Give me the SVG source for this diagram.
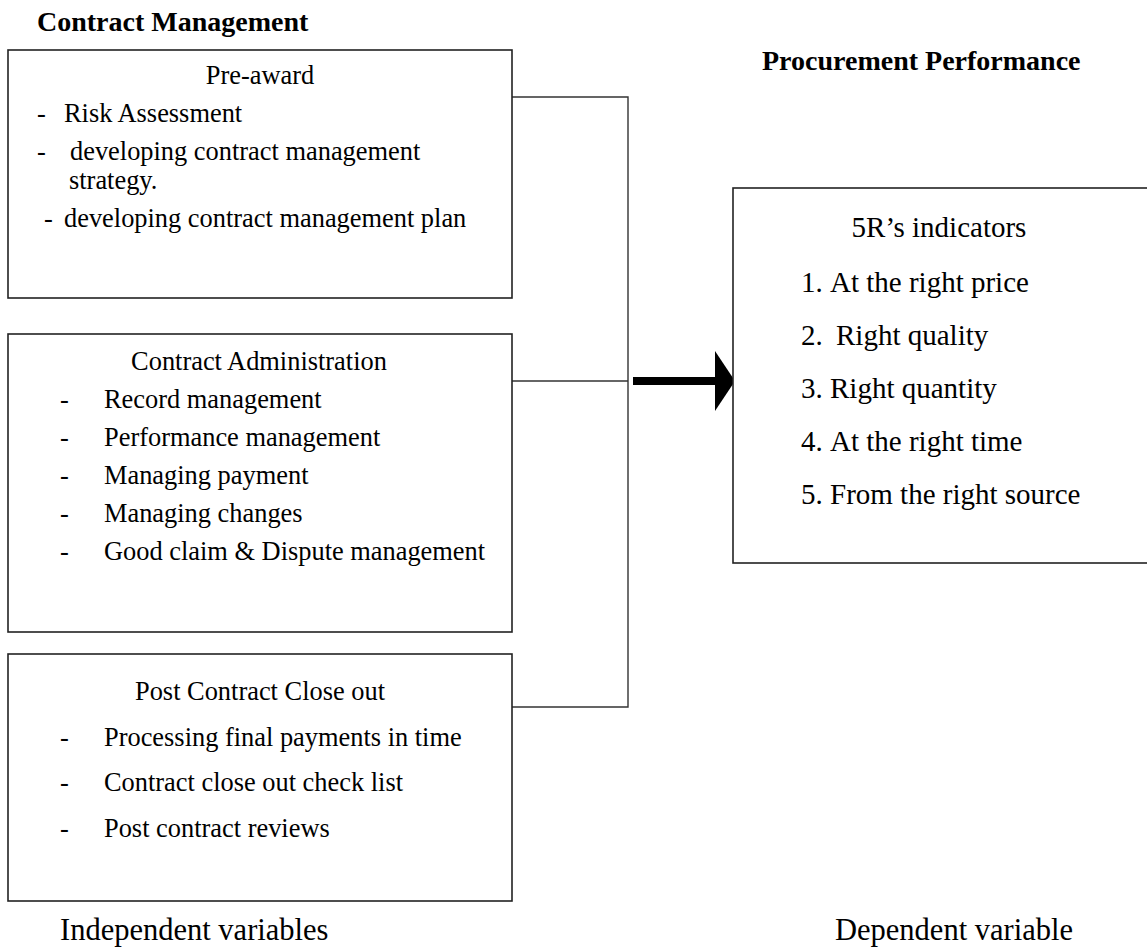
<svg xmlns="http://www.w3.org/2000/svg" width="1147" height="947" viewBox="0 0 1147 947">
<style>
text{font-family:"Liberation Serif","Times New Roman",serif;fill:#000}
.b{font-size:28px;font-weight:bold}
.t{font-size:26.4px}
.c{font-size:26.4px;text-anchor:middle}
.r{font-size:29px}
.lab{font-size:30.5px}
.box{fill:#fff;stroke:#222;stroke-width:1.6}
.con{fill:none;stroke:#333;stroke-width:1.4}
</style>
<rect width="1147" height="947" fill="#fff"/>
<text class="b" x="37" y="31">Contract Management</text>
<text class="b" x="762" y="70" font-size="28.5">Procurement Performance</text>
<g id="connectors">
<polyline class="con" points="512,97 628,97 628,707 512,707"/>
<line class="con" x1="512" y1="381" x2="628" y2="381"/>
<line x1="633" y1="381" x2="718" y2="381" stroke="#000" stroke-width="8"/>
<polygon points="715,351 735,381 715,411" fill="#000"/>
</g>
<g id="pre-award">
<rect class="box" x="8" y="50" width="504" height="248"/>
<text class="c" x="260" y="84">Pre-award</text>
<text class="t" x="37" y="122">-</text><text class="t" x="64" y="122">Risk Assessment</text>
<text class="t" x="37" y="160">-</text><text class="t" x="70" y="160">developing contract management</text>
<text class="t" x="69" y="189">strategy.</text>
<text class="t" x="44" y="227">-</text><text class="t" x="64" y="227">developing contract management plan</text>
</g>
<g id="contract-administration">
<rect class="box" x="8" y="334" width="504" height="298"/>
<text class="c" x="259" y="370">Contract Administration</text>
<text class="t" x="60" y="408">-</text><text class="t" x="104" y="408">Record management</text>
<text class="t" x="60" y="446">-</text><text class="t" x="104" y="446">Performance management</text>
<text class="t" x="60" y="484">-</text><text class="t" x="104" y="484">Managing payment</text>
<text class="t" x="60" y="522">-</text><text class="t" x="104" y="522">Managing changes</text>
<text class="t" x="60" y="560">-</text><text class="t" x="104" y="560">Good claim &amp; Dispute management</text>
</g>
<g id="post-contract">
<rect class="box" x="8" y="654" width="504" height="247"/>
<text class="c" x="260" y="700">Post Contract Close out</text>
<text class="t" x="60" y="746">-</text><text class="t" x="104" y="746">Processing final payments in time</text>
<text class="t" x="60" y="791">-</text><text class="t" x="104" y="791">Contract close out check list</text>
<text class="t" x="60" y="837">-</text><text class="t" x="104" y="837">Post contract reviews</text>
</g>
<g id="indicators">
<rect class="box" x="733" y="188" width="430" height="375"/>
<text class="r" x="939" y="237" text-anchor="middle">5R’s indicators</text>
<text class="r" x="801" y="292">1.</text><text class="r" x="830" y="292">At the right price</text>
<text class="r" x="801" y="345">2.</text><text class="r" x="836" y="345">Right quality</text>
<text class="r" x="801" y="398">3.</text><text class="r" x="830" y="398">Right quantity</text>
<text class="r" x="801" y="451">4.</text><text class="r" x="830" y="451">At the right time</text>
<text class="r" x="801" y="504">5.</text><text class="r" x="830" y="504">From the right source</text>
</g>
<text class="lab" x="60" y="940">Independent variables</text>
<text class="lab" x="835" y="940">Dependent variable</text>
</svg>
